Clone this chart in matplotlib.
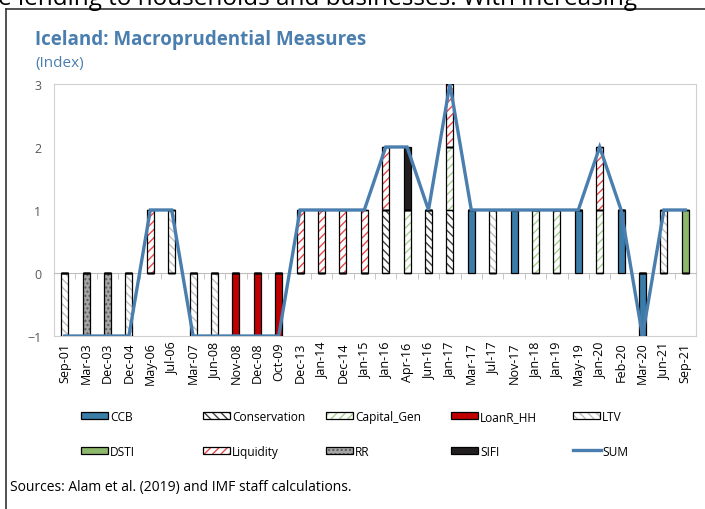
import matplotlib
matplotlib.use("Agg")
import matplotlib.pyplot as plt
from matplotlib.patches import Rectangle
from matplotlib.lines import Line2D
import numpy as np

plt.rcParams["font.family"] = ["Open Sans", "DejaVu Sans"]
plt.rcParams["hatch.linewidth"] = 1.0

# ===== data =====
dates = ["Sep-01", "Mar-03", "Dec-03", "Dec-04", "May-06", "Jul-06", "Mar-07", "Jun-08",
         "Nov-08", "Dec-08", "Oct-09", "Dec-13", "Jan-14", "Dec-14", "Jan-15", "Jan-16",
         "Apr-16", "Jun-16", "Jan-17", "Mar-17", "Jul-17", "Nov-17", "Jan-18", "Jan-19",
         "May-19", "Jan-20", "Feb-20", "Mar-20", "Jun-21", "Sep-21"]

ccb          = [0, 0, 0, 0, 0, 0, 0, 0, 0, 0, 0, 0, 0, 0, 0, 0, 0, 0, 0, 1, 0, 1, 0, 0, 1, 0, 1, -1, 0, 0]
conservation = [0, 0, 0, 0, 0, 0, 0, 0, 0, 0, 0, 0, 0, 0, 0, 1, 0, 1, 1, 0, 0, 0, 0, 0, 0, 0, 0, 0, 0, 0]
capital_gen  = [0, 0, 0, 0, 0, 0, 0, 0, 0, 0, 0, 0, 0, 0, 0, 0, 1, 0, 1, 0, 0, 0, 1, 1, 0, 1, 0, 0, 0, 0]
loanr_hh     = [0, 0, 0, 0, 0, 0, 0, 0, -1, -1, -1, 0, 0, 0, 0, 0, 0, 0, 0, 0, 0, 0, 0, 0, 0, 0, 0, 0, 0, 0]
ltv          = [-1, 0, 0, -1, 0, 1, -1, -1, 0, 0, 0, 0, 0, 0, 0, 0, 0, 0, 0, 0, 1, 0, 0, 0, 0, 0, 0, 0, 1, 0]
dsti         = [0, 0, 0, 0, 0, 0, 0, 0, 0, 0, 0, 0, 0, 0, 0, 0, 0, 0, 0, 0, 0, 0, 0, 0, 0, 0, 0, 0, 0, 1]
liquidity    = [0, 0, 0, 0, 1, 0, 0, 0, 0, 0, 0, 1, 1, 1, 1, 1, 0, 0, 1, 0, 0, 0, 0, 0, 0, 1, 0, 0, 0, 0]
rr           = [0, -1, -1, 0, 0, 0, 0, 0, 0, 0, 0, 0, 0, 0, 0, 0, 0, 0, 0, 0, 0, 0, 0, 0, 0, 0, 0, 0, 0, 0]
sifi         = [0, 0, 0, 0, 0, 0, 0, 0, 0, 0, 0, 0, 0, 0, 0, 0, 1, 0, 0, 0, 0, 0, 0, 0, 0, 0, 0, 0, 0, 0]
sum_idx      = [-1, -1, -1, -1, 1, 1, -1, -1, -1, -1, -1, 1, 1, 1, 1, 2, 2, 1, 3, 1, 1, 1, 1, 1, 1, 2, 1, -1, 1, 1]

# name, values, facecolor, hatch, hatch color
series = [
    ("CCB", ccb, "#3B7CA8", None, None),
    ("Conservation", conservation, "white", "\\\\\\\\", "#404040"),
    ("Capital_Gen", capital_gen, "white", "////", "#A9D08E"),
    ("LoanR_HH", loanr_hh, "#C00000", None, None),
    ("LTV", ltv, "white", "\\\\\\\\", "#BFBFBF"),
    ("DSTI", dsti, "#8DB86B", None, None),
    ("Liquidity", liquidity, "white", "////", "#E8484A"),
    ("RR", rr, "#A6A6A6", "....", "#595959"),
    ("SIFI", sifi, "#231F20", None, None),
]

BLUE = "#4A7EAF"
W, H = 705, 510

fig = plt.figure(figsize=(7.05, 5.1), dpi=100)
ax = fig.add_axes([54 / W, 1 - 337 / H, 642 / W, 252 / H])

x = np.arange(len(dates))
width = 0.33
pos_bottom = np.zeros(len(dates))
neg_bottom = np.zeros(len(dates))
for name, vals, fc, hatch, hc in series:
    v = np.array(vals, dtype=float)
    bottom = np.where(v >= 0, pos_bottom, neg_bottom)
    if hatch:
        ax.bar(x, v, width, bottom=bottom, color=fc, hatch=hatch, edgecolor=hc,
               linewidth=0, zorder=2)
    else:
        ax.bar(x, v, width, bottom=bottom, color=fc, linewidth=0, zorder=2)
    ax.bar(x, v, width, bottom=bottom, fill=False, edgecolor="black",
           linewidth=0.9, zorder=3)
    pos_bottom += np.where(v > 0, v, 0)
    neg_bottom += np.where(v < 0, v, 0)

ax.plot(x, sum_idx, color=BLUE, linewidth=2.4, zorder=4, solid_joinstyle="miter")

ax.set_xlim(-0.5, len(dates) - 0.5)
ax.set_ylim(-1, 3)
ax.set_yticks([-1, 0, 1, 2, 3])
ax.tick_params(axis="y", length=0, labelsize=9, labelcolor="#595959", pad=9)

# zero line with small tick marks between categories
ax.spines["bottom"].set_position(("data", 0))
ax.spines["bottom"].set_color("#BFBFBF")
ax.set_xticks(x)
ax.set_xticklabels([])
ax.tick_params(axis="x", which="major", length=0)
ax.set_xticks(np.arange(len(dates) + 1) - 0.5, minor=True)
ax.tick_params(axis="x", which="minor", length=4, color="#BFBFBF", direction="out")
for s in ["left", "right", "top"]:
    ax.spines[s].set_color("#D0D0D0")

sec = ax.secondary_xaxis(0)
sec.set_xticks(x)
sec.set_xticklabels(dates, rotation=90, fontsize=9)
sec.tick_params(length=0, pad=4)
sec.spines["bottom"].set_color("#D0D0D0")

# titles
fig.text(35 / W, 1 - 40 / H, "Iceland: Macroprudential Measures", fontsize=13.5,
         fontweight="bold", color=BLUE, va="center")
fig.text(35 / W, 1 - 63 / H, "(Index)", fontsize=11, color=BLUE, va="center")

# cut-off body text above the chart box
fig.text(-2 / W, 1 - 5 / H, "e lending to households and businesses. With increasing",
         fontsize=17.5, color="black", va="baseline")

# box around the chart
fig.add_artist(Line2D([6 / W, 1], [1 - 10 / H, 1 - 10 / H], color="#333333",
                      linewidth=1.2, transform=fig.transFigure))
fig.add_artist(Line2D([6 / W, 6 / W], [0, 1 - 10 / H], color="#333333",
                      linewidth=1.2, transform=fig.transFigure))

# legend: 2 rows x 5 columns, drawn by hand so rows line up
legend_rows = [["CCB", "Conservation", "Capital_Gen", "LoanR_HH", "LTV"],
               ["DSTI", "Liquidity", "RR", "SIFI", "SUM"]]
col_x = [81, 203, 326, 451, 573]
row_y = [416, 451]
style = {name: (fc, hatch, hc) for name, vals, fc, hatch, hc in series}
for ry, names in zip(row_y, legend_rows):
    for cx, name in zip(col_x, names):
        yc = 1 - ry / H
        if name == "SUM":
            fig.add_artist(Line2D([cx / W, (cx + 28) / W], [yc, yc], color=BLUE,
                                  linewidth=2.4, transform=fig.transFigure))
        else:
            fc, hatch, hc = style[name]
            fig.add_artist(Rectangle((cx / W, yc - 3.5 / H), 27 / W, 7 / H,
                                     facecolor=fc, hatch=hatch,
                                     edgecolor=hc if hatch else fc, linewidth=0,
                                     transform=fig.transFigure))
            fig.add_artist(Rectangle((cx / W, yc - 3.5 / H), 27 / W, 7 / H,
                                     facecolor="none", edgecolor="black",
                                     linewidth=0.9, transform=fig.transFigure))
        fig.text((cx + 29) / W, yc, name, fontsize=8.6, va="center_baseline")

fig.text(10 / W, 1 - 487 / H, "Sources: Alam et al. (2019) and IMF staff calculations.",
         fontsize=10, va="center")

fig.savefig("out.png", dpi=100)
